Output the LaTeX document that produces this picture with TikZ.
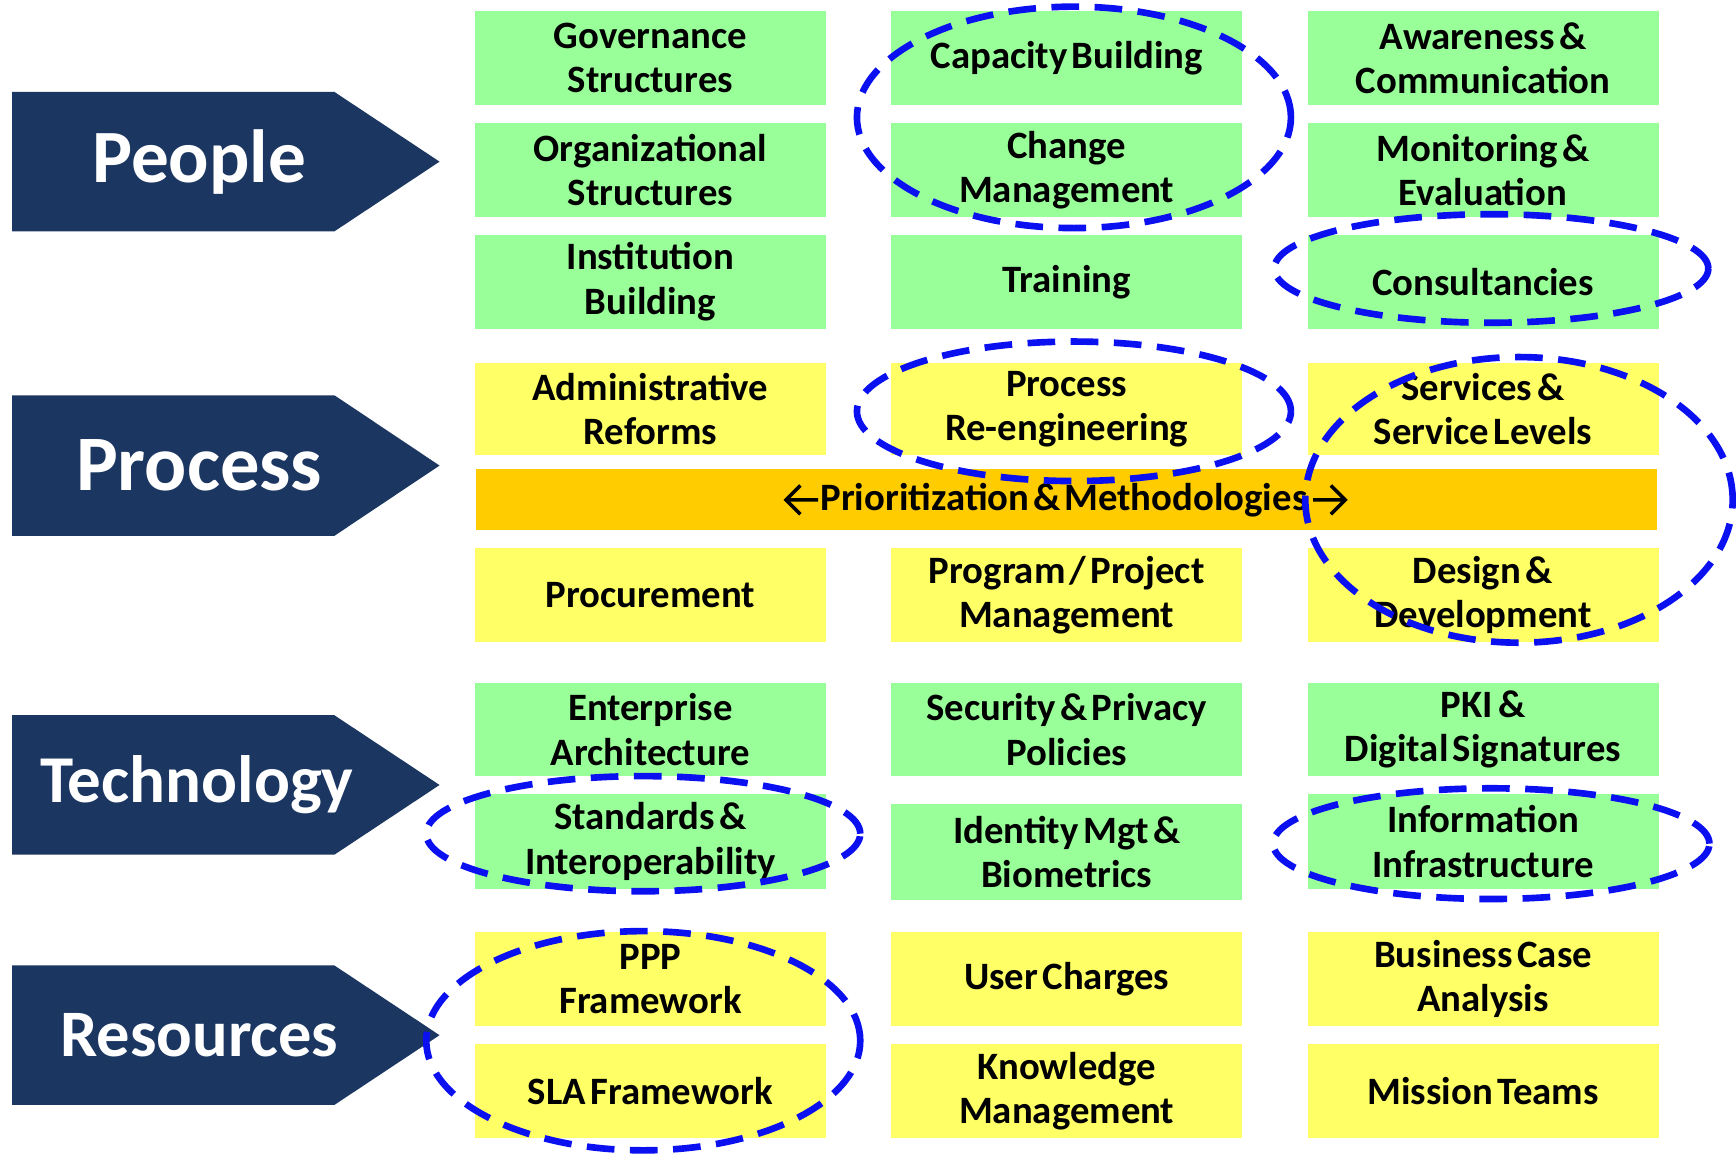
\documentclass[tikz,border=0pt]{standalone}
\usepackage{fontspec}
\setmainfont{Carlito}
\definecolor{navy}{HTML}{1B3660}
\definecolor{boxgreen}{HTML}{99FF99}
\definecolor{boxyellow}{HTML}{FFFF66}
\definecolor{barorange}{HTML}{FFCC00}
\definecolor{ringblue}{HTML}{0A10F0}
\newcommand{\tightsp}{\spaceskip=0.1em plus 0.02em\relax\xspaceskip=0.1em\relax}
\tikzset{
  box/.style={inner sep=0pt, minimum width=317pt, text width=315pt, align=center,
    font=\bfseries\fontsize{35}{40}\selectfont, execute at begin node=\tightsp},
  gbox/.style={box, fill=boxgreen},
  ybox/.style={box, fill=boxyellow},
  cat/.style={fill=navy},
  catlabel/.style={text=white, font=\bfseries\fontsize{#1}{#1}\selectfont},
  ring/.style={draw=ringblue, line width=6pt, dash pattern=on 25pt off 14pt},
  chev/.style={draw=black, line width=3.2pt, line cap=butt, line join=miter}
}
\begin{document}
\begin{tikzpicture}[x=1pt,y=-1pt]
\useasboundingbox (0,0) rectangle (1568,1044);
% category arrows
\fill[cat] (11,83) -- (302,83) -- (397,146) -- (302,209) -- (11,209) -- cycle;
\node[catlabel=68] (people) at (180,146) {People};
\fill[cat] (11,357) -- (302,357) -- (397,420.5) -- (302,484) -- (11,484) -- cycle;
\node[catlabel=71] (process) at (180,420.5) {Process};
\fill[cat] (11,646) -- (302,646) -- (397,709) -- (302,772) -- (11,772) -- cycle;
\node[catlabel=60.5] (technology) at (178,709) {Technology};
\fill[cat] (11,872) -- (302,872) -- (397,935) -- (302,998) -- (11,998) -- cycle;
\node[catlabel=60] (resources) at (180,935) {Resources};
% People
\node[gbox, minimum height=85pt] (gov) at (587.5,52.5) {Governance\\Structures};
\node[gbox, minimum height=85pt] (org) at (587.5,153.5) {Organizational\\Structures};
\node[gbox, minimum height=85pt] (inst) at (587.5,254.5) {Institution\\Building};
\node[gbox, minimum height=85pt] (cap) at (963.5,52.5) {Capacity Building};
\node[gbox, minimum height=85pt] (chg) at (963.5,153.5) {Change\\Management};
\node[gbox, minimum height=85pt] (trn) at (963.5,254.5) {Training};
\node[gbox, minimum height=85pt] (aw) at (1339.5,52.5) {Awareness \&\\Communication};
\node[gbox, minimum height=85pt] (mon) at (1339.5,153.5) {Monitoring \&\\Evaluation};
\node[gbox, minimum height=85pt] (cons) at (1339.5,254.5) {Consultancies};
% Process
\node[ybox, minimum height=83pt] (adm) at (587.5,369.5) {Administrative\\Reforms};
\node[ybox, minimum height=83pt] (pre) at (963.5,369.5) {Process\\Re-engineering};
\node[ybox, minimum height=83pt] (svc) at (1339.5,369.5) {Services \&\\Service Levels};
\node[fill=barorange, minimum width=1067pt, minimum height=55pt, inner sep=0pt] (bar) at (963.5,451.5) {};
\node[inner sep=0pt, font=\bfseries\fontsize{35}{40}\selectfont, execute at begin node=\tightsp] (bartext) at (961,451.5) {Prioritization \& Methodologies};
\draw[chev] ([xshift=-2pt]bartext.west) -- ++(-29,0) ++(13,-13) -- ++(-13,13) -- ++(13,13);
\draw[chev] ([xshift=5pt]bartext.east) -- ++(29,0) ++(-13,-13) -- ++(13,13) -- ++(-13,13);
\node[ybox, minimum height=85pt] (proc) at (587.5,537.5) {Procurement};
\node[ybox, minimum height=85pt] (prog) at (963.5,537.5) {Program / Project\\Management};
\node[ybox, minimum height=85pt] (des) at (1339.5,537.5) {Design \&\\Development};
% Technology
\node[gbox, minimum height=84pt] (ent) at (587.5,659) {Enterprise\\Architecture};
\node[gbox, minimum height=84pt] (sec) at (963.5,659) {Security \& Privacy\\Policies};
\node[gbox, minimum height=84pt] (pki) at (1339.5,659) {PKI \&\\Digital Signatures};
\node[gbox, minimum height=86pt] (std) at (587.5,760) {Standards \&\\Interoperability};
\node[gbox, minimum height=86pt] (idm) at (963.5,769.5) {Identity Mgt \&\\Biometrics};
\node[gbox, minimum height=86pt] (info) at (1339.5,760) {Information\\Infrastructure};
% Resources
\node[ybox, minimum height=85pt] (ppp) at (587.5,884.5) {PPP\\Framework};
\node[ybox, minimum height=85pt] (uc) at (963.5,884.5) {User Charges};
\node[ybox, minimum height=85pt] (bca) at (1339.5,884.5) {Business Case\\Analysis};
\node[ybox, minimum height=85pt] (sla) at (587.5,985.5) {SLA Framework};
\node[ybox, minimum height=85pt] (km) at (963.5,985.5) {Knowledge\\Management};
\node[ybox, minimum height=85pt] (mt) at (1339.5,985.5) {Mission Teams};
% dashed rings
\draw[ring] (970,106) ellipse [x radius=196pt, y radius=100pt];
\draw[ring] (1347,242.5) ellipse [x radius=196pt, y radius=49pt];
\draw[ring] (970,371.5) ellipse [x radius=196pt, y radius=63pt];
\draw[ring] (1372,451.5) ellipse [x radius=193pt, y radius=129pt];
\draw[ring] (581,753) ellipse [x radius=196pt, y radius=52pt];
\draw[ring] (1347,762) ellipse [x radius=197pt, y radius=50pt];
\draw[ring] (581,940) ellipse [x radius=196pt, y radius=99pt];
\end{tikzpicture}
\end{document}
